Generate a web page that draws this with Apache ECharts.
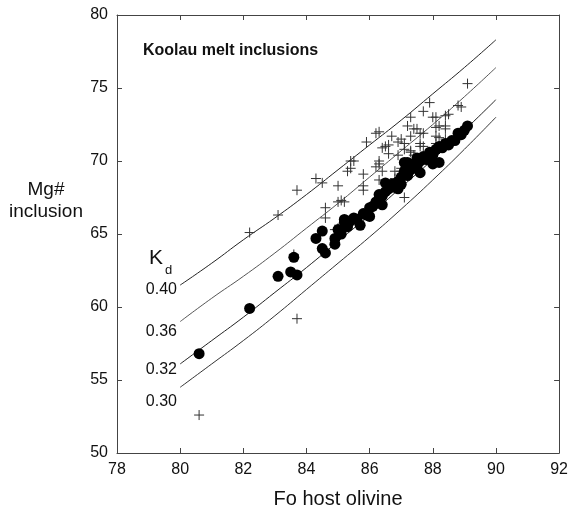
<!DOCTYPE html>
<html>
<head>
<meta charset="utf-8">
<script src="https://cdn.jsdelivr.net/npm/echarts@6/dist/echarts.min.js"></script>
<style>
  html, body { margin: 0; padding: 0; background: #fff; }
  #main { width: 571px; height: 514px; }
</style>
</head>
<body>
<div id="main"></div>
<script>
// Kd reference curves at whole Fo units
var kdFo = [80, 81, 82, 83, 84, 85, 86, 87, 88, 89, 90];
var kd040 = [61.5, 63.0, 64.6, 66.1, 67.7, 69.4, 71.1, 72.8, 74.6, 76.4, 78.3];
var kd036 = [59.0, 60.6, 62.1, 63.7, 65.4, 67.1, 68.9, 70.7, 72.5, 74.4, 76.4];
var kd032 = [56.1, 57.7, 59.3, 61.0, 62.7, 64.5, 66.3, 68.2, 70.1, 72.1, 74.2];
var kd030 = [54.5, 56.1, 57.7, 59.4, 61.2, 63.0, 64.8, 66.7, 68.7, 70.8, 73.0];

// filled circles [Fo, Mg#]
var dots = [
  [80.6, 56.8], [82.2, 59.9], [83.1, 62.1], [83.5, 62.4], [83.6, 63.4], [83.7, 62.2],
  [84.3, 64.7], [84.5, 65.2], [84.5, 64.0], [84.6, 63.7], [84.9, 64.7], [84.9, 64.3],
  [85.0, 65.3], [85.1, 65.0], [85.2, 65.8], [85.2, 66.0], [85.3, 65.5], [85.4, 65.9],
  [85.5, 66.1], [85.6, 66.0], [85.7, 65.6], [85.8, 66.4], [85.9, 66.3], [86.0, 66.8],
  [86.0, 66.2], [86.1, 66.9], [86.2, 67.2], [86.3, 67.7], [86.3, 67.3], [86.4, 67.6],
  [86.4, 67.0], [86.5, 68.5], [86.5, 67.9], [86.6, 68.1], [86.7, 68.4], [86.8, 68.2],
  [86.9, 68.6], [86.9, 68.1], [87.0, 68.9], [87.0, 68.4], [87.1, 69.3], [87.1, 69.9],
  [87.2, 69.0], [87.2, 69.9], [87.3, 69.4], [87.4, 69.8], [87.5, 69.6], [87.5, 70.2],
  [87.6, 70.0], [87.6, 69.2], [87.7, 70.3], [87.8, 70.1], [87.9, 70.6], [88.0, 70.4],
  [88.0, 69.8], [88.1, 70.8], [88.2, 69.9], [88.2, 71.0], [88.3, 70.9], [88.4, 71.2],
  [88.5, 71.1], [88.6, 71.4], [88.7, 71.4], [88.8, 71.9], [88.9, 71.8], [89.0, 72.1],
  [89.1, 72.4]
];

// crosses [Fo, Mg#]
var crosses = [
  [80.6, 52.6], [82.2, 65.1], [83.1, 66.3], [83.6, 63.6], [83.7, 59.2], [83.7, 68.0],
  [84.3, 68.8], [84.5, 68.5], [84.6, 66.8], [84.6, 66.1], [84.9, 65.3], [85.0, 68.3],
  [85.0, 67.2], [85.1, 67.3], [85.2, 67.2], [85.0, 65.4], [85.3, 69.3], [85.4, 69.5],
  [85.4, 70.0], [85.5, 70.0], [85.8, 69.1], [85.8, 68.3], [85.8, 68.0], [85.9, 71.3],
  [86.2, 71.9], [86.3, 72.0], [86.2, 69.6], [86.3, 70.0], [86.3, 69.8], [86.4, 69.3],
  [86.4, 70.9], [86.3, 68.7], [86.5, 71.0], [86.6, 71.1], [86.6, 70.5], [86.7, 71.7],
  [86.8, 69.3], [86.8, 68.8], [86.9, 71.3], [86.9, 70.4], [87.0, 71.5], [87.0, 69.3],
  [87.0, 69.5], [87.1, 71.2], [87.1, 70.8], [87.1, 67.5], [87.2, 72.4], [87.3, 73.0],
  [87.3, 71.7], [87.3, 70.7], [87.3, 70.6], [87.4, 72.2], [87.4, 70.4], [87.5, 72.2],
  [87.6, 71.9], [87.6, 71.2], [87.6, 71.0], [87.7, 73.4], [87.7, 71.9], [87.7, 71.0],
  [87.9, 74.0], [88.0, 73.0], [88.1, 73.0], [88.1, 72.3], [88.1, 71.7], [88.1, 71.2],
  [88.2, 72.4], [88.2, 71.6], [88.4, 73.1], [88.5, 73.2], [88.4, 72.4], [88.4, 72.2],
  [88.4, 71.5], [88.8, 73.8], [88.9, 73.7], [89.1, 75.3]
];

var xTicks = { min: 78, max: 92, interval: 2 };
var yTicks = { min: 50, max: 80, interval: 5 };

var FONT = '"Liberation Sans", Arial, sans-serif';

function curve(ys) {
  return kdFo.map(function (x, i) { return [x, ys[i]]; });
}

var myChart = echarts.init(document.getElementById('main'));

var axisLine = { show: true, lineStyle: { color: '#444', width: 1 } };
var axisTick = { show: true, inside: true, length: 5, lineStyle: { color: '#444' } };

var option = {
  animation: false,
  backgroundColor: '#fff',
  grid: { left: 117, right: 10, top: 15, bottom: 57 },
  xAxis: [{
    type: 'value', min: xTicks.min, max: xTicks.max, interval: xTicks.interval,
    axisLine: axisLine, axisTick: axisTick, splitLine: { show: false },
    axisLabel: { fontFamily: FONT, fontSize: 16, color: '#111', margin: 9 },
    name: 'Fo host olivine', nameLocation: 'middle', nameGap: 36,
    nameTextStyle: { fontFamily: FONT, fontSize: 20, color: '#111' }
  }, {
    type: 'value', position: 'top', min: xTicks.min, max: xTicks.max, interval: xTicks.interval,
    axisLine: axisLine, axisTick: axisTick, splitLine: { show: false },
    axisLabel: { show: false }
  }],
  yAxis: [{
    type: 'value', min: yTicks.min, max: yTicks.max, interval: yTicks.interval,
    axisLine: axisLine, axisTick: axisTick, splitLine: { show: false },
    axisLabel: { fontFamily: FONT, fontSize: 16, color: '#111', margin: 9 }
  }, {
    type: 'value', position: 'right', min: yTicks.min, max: yTicks.max, interval: yTicks.interval,
    axisLine: axisLine, axisTick: axisTick, splitLine: { show: false },
    axisLabel: { show: false }
  }],
  graphic: [
    { type: 'text', left: 143, top: 43,
      style: { text: 'Koolau melt inclusions', font: 'bold 16px ' + FONT, fill: '#111' } },
    { type: 'text', x: 46, y: 190,
      style: { text: 'Mg#', font: '19px ' + FONT, fill: '#111', align: 'center', verticalAlign: 'middle' } },
    { type: 'text', x: 46, y: 212,
      style: { text: 'inclusion', font: '19px ' + FONT, fill: '#111', align: 'center', verticalAlign: 'middle' } },
    { type: 'text', x: 149, y: 258,
      style: { text: 'K', font: '21px ' + FONT, fill: '#111', verticalAlign: 'middle' } },
    { type: 'text', x: 165, y: 270,
      style: { text: 'd', font: '13px ' + FONT, fill: '#111', verticalAlign: 'middle' } },
    { type: 'text', x: 177, y: 290,
      style: { text: '0.40', font: '16px ' + FONT, fill: '#111', align: 'right', verticalAlign: 'middle' } },
    { type: 'text', x: 177, y: 332,
      style: { text: '0.36', font: '16px ' + FONT, fill: '#111', align: 'right', verticalAlign: 'middle' } },
    { type: 'text', x: 177, y: 370,
      style: { text: '0.32', font: '16px ' + FONT, fill: '#111', align: 'right', verticalAlign: 'middle' } },
    { type: 'text', x: 177, y: 402,
      style: { text: '0.30', font: '16px ' + FONT, fill: '#111', align: 'right', verticalAlign: 'middle' } }
  ],
  series: [
    { type: 'line', data: curve(kd040), smooth: true, showSymbol: false, lineStyle: { color: '#222', width: 1 }, z: 1 },
    { type: 'line', data: curve(kd036), smooth: true, showSymbol: false, lineStyle: { color: '#555', width: 1 }, z: 1 },
    { type: 'line', data: curve(kd032), smooth: true, showSymbol: false, lineStyle: { color: '#222', width: 1 }, z: 1 },
    { type: 'line', data: curve(kd030), smooth: true, showSymbol: false, lineStyle: { color: '#333', width: 1 }, z: 1 },
    {
      type: 'scatter', data: crosses, z: 2,
      symbol: 'path://M0,5L10,5M5,0L5,10', symbolSize: 10,
      itemStyle: { color: 'transparent', borderColor: '#333', borderWidth: 1, opacity: 1 }
    },
    {
      type: 'scatter', data: dots, z: 3,
      symbol: 'circle', symbolSize: 11,
      itemStyle: { color: '#000', opacity: 1 }
    }
  ]
};

myChart.setOption(option);
</script>
</body>
</html>
